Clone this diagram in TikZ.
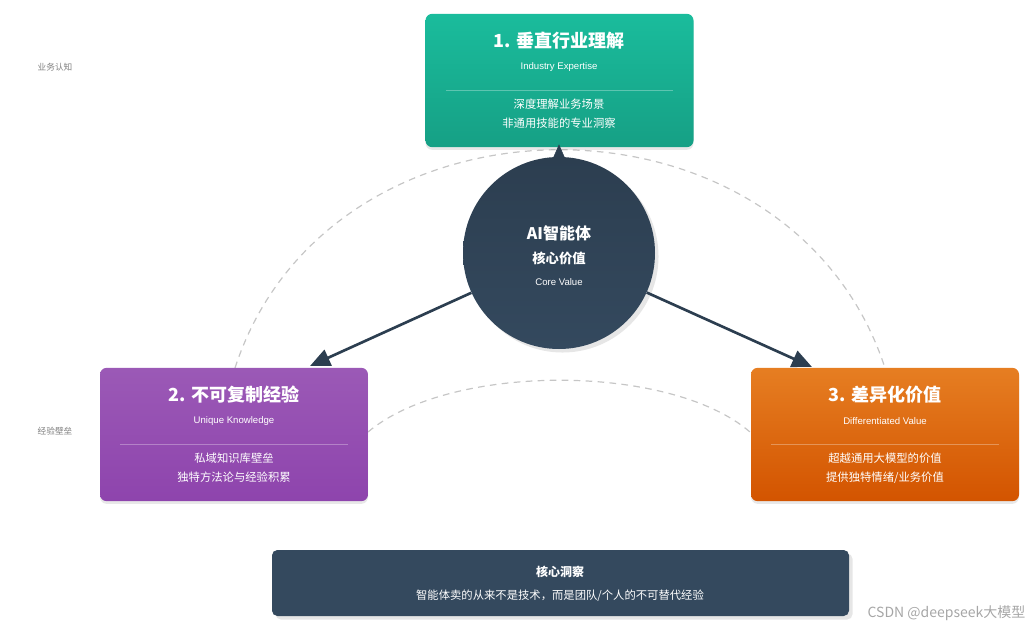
\documentclass[tikz,border=0pt]{standalone}
\usepackage{fontspec}
\setmainfont{Liberation Sans}
\newfontfamily\cjk{Noto Sans CJK SC}
\usetikzlibrary{arrows.meta,shadows}
\definecolor{navy}{HTML}{2C3E50}
\definecolor{navyb}{HTML}{34495E}
\definecolor{tealA}{HTML}{1ABC9C}\definecolor{tealB}{HTML}{16A085}
\definecolor{purA}{HTML}{9B59B6}\definecolor{purB}{HTML}{8E44AD}
\definecolor{orA}{HTML}{E67E22}\definecolor{orB}{HTML}{D35400}
\begin{document}
\begin{tikzpicture}[x=0.75pt,y=-0.75pt,
 card/.style={rectangle,rounded corners=5pt,minimum width=201pt,minimum height=100pt,inner sep=0,drop shadow={opacity=0.18,shadow xshift=0pt,shadow yshift=-2pt}},
 ttl/.style={text=white,font=\cjk\bfseries\fontsize{13.5}{15}\selectfont},
 sub/.style={text=white,font=\fontsize{7.2}{9}\selectfont},
 body/.style={text=white,font=\cjk\fontsize{8.5}{14}\selectfont,align=center},
 dline/.style={draw=gray!45,line width=0.9pt,dash pattern=on 5pt off 4pt},
 arr/.style={draw=navy,line width=2pt,-{Triangle[length=15pt,width=13pt]}}]
\useasboundingbox (0,0) rectangle (1033,635);
% dashed arcs
\draw[dline] (235,368) .. controls (330,77) and (790,77) .. (885,368);
\draw[dline] (368,432) .. controls (450,363) and (670,363) .. (750,432);
% labels
\node[text=gray,font=\cjk\itshape\fontsize{6.5}{8}\selectfont] (l1) at (55,67) {业务认知};
\node[text=gray,font=\cjk\itshape\fontsize{6.5}{8}\selectfont] (l2) at (55,431) {经验壁垒};
% cards
\node[card,top color=tealA,bottom color=tealB] (card1) at (559.5,80.5) {};
\node[coordinate] (top) at (559,147) {};
\node[ttl] (t1) at (559,41) {1. 垂直行业理解};
\node[sub] (s1) at (559,67) {Industry Expertise};
\draw[white,opacity=0.3] (446,90) -- (673,90);
\node[body] (b1) at (559,114) {深度理解业务场景\\非通用技能的专业洞察};
\node[card,top color=purA,bottom color=purB] (card2) at (234,434.5) {};
\node[coordinate] (left) at (310,366) {};
\node[ttl] (t2) at (234,395) {2. 不可复制经验};
\node[sub] (s2) at (234,421) {Unique Knowledge};
\draw[white,opacity=0.3] (120,444) -- (348,444);
\node[body] (b2) at (234,468) {私域知识库壁垒\\独特方法论与经验积累};
\node[card,top color=orA,bottom color=orB] (card3) at (885,434.5) {};
\node[coordinate] (right) at (812,367) {};
\node[ttl] (t3) at (885,395) {3. 差异化价值};
\node[sub] (s3) at (885,421) {Differentiated Value};
\draw[white,opacity=0.3] (771,444) -- (999,444);
\node[body] (b3) at (885,468) {超越通用大模型的价值\\提供独特情绪/业务价值};
% circle
\node[circle,minimum size=144pt,inner sep=0,top color=navy,bottom color=navyb,drop shadow={opacity=0.2}] (c) at (559,253) {};
\draw[navy,fill=navy] (552,161) -- (559,145) -- (566,161) -- cycle;
\draw[arr] (c) -- (left);
\draw[arr] (c) -- (right);
\node[text=white,font=\cjk\bfseries\fontsize{12}{13}\selectfont] (c1) at (559,233) {AI智能体};
\node[text=white,font=\cjk\bfseries\fontsize{10}{11}\selectfont] (c2) at (559,258) {核心价值};
\node[text=white,font=\fontsize{7.2}{9}\selectfont] (c3) at (559,282) {Core Value};
% bottom box
\node[rectangle,rounded corners=4pt,fill=navyb,minimum width=432.75pt,minimum height=49.5pt,inner sep=0,drop shadow={opacity=0.2}] (box) at (560.5,583) {};
\node[text=white,font=\cjk\bfseries\fontsize{9}{10}\selectfont] (k1) at (560,572) {核心洞察};
\node[text=white,font=\cjk\fontsize{8.5}{10}\selectfont] (k2) at (560,596) {智能体卖的从来不是技术，而是团队/个人的不可替代经验};
\node[text=gray!70,font=\cjk\fontsize{10.5}{12}\selectfont,anchor=east] (wm) at (1030,613) {CSDN @deepseek大模型};
\end{tikzpicture}
\end{document}
